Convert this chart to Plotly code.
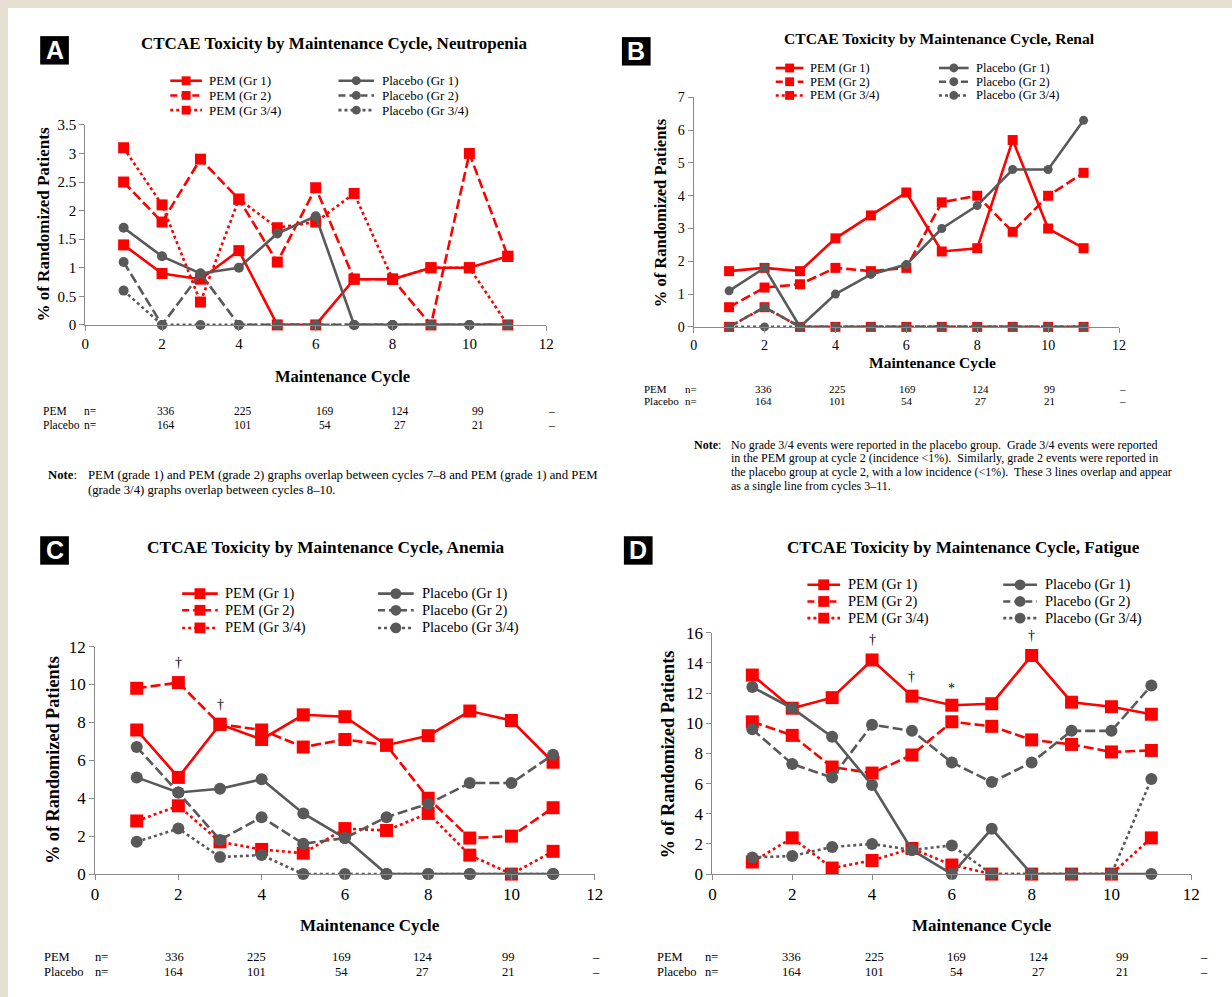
import plotly.graph_objects as go

PAGE_W, PAGE_H = 1232, 997
OFF = 8                      # default page margin of the html body
W, H = PAGE_W - 2 * OFF, PAGE_H - 2 * OFF
SERIF = "Liberation Serif, Times New Roman, Times, serif"
SANS = "Liberation Sans, Arial, sans-serif"
RED = "#ff0000"
GRAY = "#595959"

cycles = list(range(1, 12))

# ---------------- data ----------------
# Panel A - Neutropenia
a_pem_g1 = [1.4, 0.9, 0.8, 1.3, 0, 0, 0.8, 0.8, 1.0, 1.0, 1.2]
a_pem_g2 = [2.5, 1.8, 2.9, 2.2, 1.1, 2.4, 0.8, 0.8, 0, 3.0, 1.2]
a_pem_g34 = [3.1, 2.1, 0.4, 2.2, 1.7, 1.8, 2.3, 0.8, 1.0, 1.0, 0]
a_plc_g1 = [1.7, 1.2, 0.9, 1.0, 1.6, 1.9, 0, 0, 0, 0, 0]
a_plc_g2 = [1.1, 0, 0.9, 0, 0, 0, 0, 0, 0, 0, 0]
a_plc_g34 = [0.6, 0, 0, 0, 0, 0, 0, 0, 0, 0, 0]

# Panel B - Renal
b_pem_g1 = [1.7, 1.8, 1.7, 2.7, 3.4, 4.1, 2.3, 2.4, 5.7, 3.0, 2.4]
b_pem_g2 = [0.6, 1.2, 1.3, 1.8, 1.7, 1.8, 3.8, 4.0, 2.9, 4.0, 4.7]
b_pem_g34 = [0, 0.6, 0, 0, 0, 0, 0, 0, 0, 0, 0]
b_plc_g1 = [1.1, 1.8, 0, 1.0, 1.6, 1.9, 3.0, 3.7, 4.8, 4.8, 6.3]
b_plc_g2 = [0, 0.6, 0, 0, 0, 0, 0, 0, 0, 0, 0]
b_plc_g34 = [0, 0, 0, 0, 0, 0, 0, 0, 0, 0, 0]

# Panel C - Anemia
c_pem_g1 = [7.6, 5.1, 7.9, 7.1, 8.4, 8.3, 6.8, 7.3, 8.6, 8.1, 5.9]
c_pem_g2 = [9.8, 10.1, 7.9, 7.6, 6.7, 7.1, 6.8, 4.0, 1.9, 2.0, 3.5]
c_pem_g34 = [2.8, 3.6, 1.7, 1.3, 1.1, 2.4, 2.3, 3.2, 1.0, 0, 1.2]
c_plc_g1 = [5.1, 4.3, 4.5, 5.0, 3.2, 1.9, 0, 0, 0, 0, 0]
c_plc_g2 = [6.7, 4.3, 1.8, 3.0, 1.6, 1.9, 3.0, 3.7, 4.8, 4.8, 6.3]
c_plc_g34 = [1.7, 2.4, 0.9, 1.0, 0, 0, 0, 0, 0, 0, 0]

# Panel D - Fatigue
d_pem_g1 = [13.2, 11.0, 11.7, 14.2, 11.8, 11.2, 11.3, 14.5, 11.4, 11.1, 10.6]
d_pem_g2 = [10.1, 9.2, 7.1, 6.7, 7.9, 10.1, 9.8, 8.9, 8.6, 8.1, 8.2]
d_pem_g34 = [0.8, 2.4, 0.4, 0.9, 1.7, 0.6, 0, 0, 0, 0, 2.4]
d_plc_g1 = [12.4, 11.0, 9.1, 5.9, 1.6, 0, 3.0, 0, 0, 0, 0]
d_plc_g2 = [9.6, 7.3, 6.4, 9.9, 9.5, 7.4, 6.1, 7.4, 9.5, 9.5, 12.5]
d_plc_g34 = [1.1, 1.2, 1.8, 2.0, 1.6, 1.9, 0, 0, 0, 0, 6.3]

# significance marks (cycle, symbol) placed above PEM points
c_marks_cycles = [2, 3]
c_marks_text = ["†", "†"]
d_marks_cycles = [4, 5, 6, 8]
d_marks_text = ["†", "†", "*", "†"]

# patients at risk
n_pem_labels = ["336", "225", "169", "124", "99", "–"]
n_placebo_labels = ["164", "101", "54", "27", "21", "–"]

series_names = ["PEM (Gr 1)", "PEM (Gr 2)", "PEM (Gr 3/4)",
                "Placebo (Gr 1)", "Placebo (Gr 2)", "Placebo (Gr 3/4)"]
dashes = ["solid", "10px,4px", "dot"]
legend_dashes = ["solid", "7px,4px", "dot"]

titles = ["CTCAE Toxicity by Maintenance Cycle, Neutropenia",
          "CTCAE Toxicity by Maintenance Cycle, Renal",
          "CTCAE Toxicity by Maintenance Cycle, Anemia",
          "CTCAE Toxicity by Maintenance Cycle, Fatigue"]

panel_data = [
    [a_pem_g1, a_pem_g2, a_pem_g34, a_plc_g1, a_plc_g2, a_plc_g34],
    [b_pem_g1, b_pem_g2, b_pem_g34, b_plc_g1, b_plc_g2, b_plc_g34],
    [c_pem_g1, c_pem_g2, c_pem_g34, c_plc_g1, c_plc_g2, c_plc_g34],
    [d_pem_g1, d_pem_g2, d_pem_g34, d_plc_g1, d_plc_g2, d_plc_g34],
]
y_max = [3.5, 7, 12, 16]
y_dtick = [0.5, 1, 2, 2]

# ---------------- layout geometry (page pixels) ----------------
panels = [
    dict(letter="A", box=(51, 42), title=(333, 35), tsize=17,
         x0=82, x1=548, y0=322, y1=118, tick=15,
         leg_rows=[73, 88, 103], leg_pem=(168, 200, 205), leg_plc=(338, 374, 380), lsize=13, mk=9,
         xt=(342, 375), yt=(40, 220), axsize=16.5, ytsize=17,
         n_rows=[410, 424], n_lab=(37, 79), n_x=[164, 242, 324, 400, 479, 553], nsize=11.5,
         msize=11),
    dict(letter="B", box=(639, 43), title=(946, 30), tsize=15.6,
         x0=697, x1=1127, y0=324, y1=90, tick=14,
         leg_rows=[60, 74, 88], leg_pem=(780, 808, 813), leg_plc=(945, 975, 980), lsize=12.5, mk=9,
         xt=(938, 360), yt=(663, 207), axsize=15.5, ytsize=16.5,
         n_rows=[387, 400], n_lab=(645, 686), n_x=[768, 842, 913, 987, 1057, 1130], nsize=11,
         msize=10),
    dict(letter="C", box=(51, 552), title=(325, 549), tsize=17.3,
         x0=92, x1=597, y0=882, y1=650, tick=17,
         leg_rows=[596, 613, 631], leg_pem=(180, 216, 221), leg_plc=(378, 414, 420), lsize=14.5, mk=11,
         xt=(370, 934), yt=(50, 766), axsize=17, ytsize=18.2,
         n_rows=[967, 982], n_lab=(38, 90), n_x=[172, 255, 341, 423, 510, 598], nsize=12.5,
         msize=13),
    dict(letter="D", box=(641, 552), title=(970, 549), tsize=17.1,
         x0=716, x1=1200, y0=882, y1=636, tick=17,
         leg_rows=[587, 604, 621], leg_pem=(812, 845, 851), leg_plc=(1010, 1044, 1050), lsize=14.5, mk=11,
         xt=(988, 934), yt=(672, 760), axsize=17, ytsize=18.2,
         n_rows=[967, 982], n_lab=(658, 706), n_x=[796, 880, 963, 1046, 1130, 1213], nsize=12.5,
         msize=13),
]


def fx(px):
    return (px - OFF) / W


def fy(py):
    return 1 - (py - OFF) / H


fig = go.Figure()
shapes = []
annotations = []

for i, (p, data) in enumerate(zip(panels, panel_data)):
    ax = "" if i == 0 else str(i + 1)
    xa, ya = "x" + ax, "y" + ax
    for k, (name, ys) in enumerate(zip(series_names, data)):
        is_pem = k < 3
        fig.add_trace(go.Scatter(
            x=cycles, y=ys, mode="lines+markers", name=name, showlegend=False,
            xaxis=xa, yaxis=ya, cliponaxis=False,
            line=dict(color=RED if is_pem else GRAY, width=2.6, dash=dashes[k % 3]),
            marker=dict(symbol="square" if is_pem else "circle",
                        size=p["msize"] if is_pem else p["msize"] - 1,
                        color=RED if is_pem else GRAY, line=dict(width=0)),
        ))
    fig.layout["xaxis" + ax] = dict(
        domain=[fx(p["x0"]), fx(p["x1"])], range=[0, 12], tickvals=list(range(0, 13, 2)),
        anchor=ya, showline=True, linecolor="#8a8a8a", linewidth=1, ticks="outside",
        ticklen=5, tickcolor="#8a8a8a", showgrid=False, zeroline=False,
        tickfont=dict(family=SERIF, size=p["tick"], color="black"), fixedrange=True)
    fig.layout["yaxis" + ax] = dict(
        domain=[fy(p["y0"]), fy(p["y1"])], range=[0, y_max[i]], dtick=y_dtick[i],
        anchor=xa, showline=True, linecolor="#8a8a8a", linewidth=1, ticks="outside",
        ticklen=5, tickcolor="#8a8a8a", showgrid=False, zeroline=False,
        tickfont=dict(family=SERIF, size=p["tick"], color="black"), fixedrange=True)

    # letter box
    bx, by = p["box"]
    shapes.append(dict(type="rect", xref="paper", yref="paper",
                       x0=fx(bx - 14.5), x1=fx(bx + 14.5), y0=fy(by + 14.5), y1=fy(by - 14.5),
                       fillcolor="black", line=dict(width=0)))
    annotations.append(dict(x=fx(bx), y=fy(by), xref="paper", yref="paper", text="<b>%s</b>" % p["letter"],
                            showarrow=False, xanchor="center", yanchor="middle",
                            font=dict(family=SANS, size=25, color="white")))
    # title
    tx, ty = p["title"]
    annotations.append(dict(x=fx(tx), y=fy(ty), xref="paper", yref="paper", text="<b>%s</b>" % titles[i],
                            showarrow=False, xanchor="center", yanchor="middle",
                            font=dict(family=SERIF, size=p["tsize"], color="black")))
    # legend (manual, two columns)
    for r, ry in enumerate(p["leg_rows"]):
        for col, (lx0, lx1, tx0) in enumerate([p["leg_pem"], p["leg_plc"]]):
            color = RED if col == 0 else GRAY
            shapes.append(dict(type="line", xref="paper", yref="paper",
                               x0=fx(lx0), x1=fx(lx1), y0=fy(ry), y1=fy(ry),
                               line=dict(color=color, width=2.6, dash=legend_dashes[r])))
            cx = (lx0 + lx1) / 2
            h = p["mk"] / 2
            shapes.append(dict(type="rect" if col == 0 else "circle", xref="paper", yref="paper",
                               x0=fx(cx - h), x1=fx(cx + h), y0=fy(ry + h), y1=fy(ry - h),
                               fillcolor=color, line=dict(width=0)))
            annotations.append(dict(x=fx(tx0), y=fy(ry), xref="paper", yref="paper",
                                    text=series_names[col * 3 + r], showarrow=False,
                                    xanchor="left", yanchor="middle",
                                    font=dict(family=SERIF, size=p["lsize"], color="black")))
    # axis titles
    xtx, xty = p["xt"]
    annotations.append(dict(x=fx(xtx), y=fy(xty), xref="paper", yref="paper",
                            text="<b>Maintenance Cycle</b>", showarrow=False,
                            xanchor="center", yanchor="middle",
                            font=dict(family=SERIF, size=p["axsize"], color="black")))
    ytx, yty = p["yt"]
    annotations.append(dict(x=fx(ytx), y=fy(yty), xref="paper", yref="paper",
                            text="<b>% of Randomized Patients</b>", showarrow=False, textangle=-90,
                            xanchor="center", yanchor="middle",
                            font=dict(family=SERIF, size=p["ytsize"], color="black")))
    # n= table
    for row, (lab, vals) in enumerate([("PEM", n_pem_labels), ("Placebo", n_placebo_labels)]):
        ry = p["n_rows"][row]
        annotations.append(dict(x=fx(p["n_lab"][0]), y=fy(ry), xref="paper", yref="paper", text=lab,
                                showarrow=False, xanchor="left", yanchor="middle",
                                font=dict(family=SERIF, size=p["nsize"], color="black")))
        annotations.append(dict(x=fx(p["n_lab"][1]), y=fy(ry), xref="paper", yref="paper", text="n=",
                                showarrow=False, xanchor="left", yanchor="middle",
                                font=dict(family=SERIF, size=p["nsize"], color="black")))
        for v, vx in zip(vals, p["n_x"]):
            annotations.append(dict(x=fx(vx), y=fy(ry), xref="paper", yref="paper", text=v,
                                    showarrow=False, xanchor="center", yanchor="middle",
                                    font=dict(family=SERIF, size=p["nsize"], color="black")))

# significance marks in C and D (above highest PEM point at that cycle)
for ax, cyc_list, txt_list, pem_top in [("3", c_marks_cycles, c_marks_text, [c_pem_g1, c_pem_g2]),
                                        ("4", d_marks_cycles, d_marks_text, [d_pem_g1, d_pem_g2])]:
    for cyc, t in zip(cyc_list, txt_list):
        idx = cycles.index(cyc)
        yv = max(s[idx] for s in pem_top)
        annotations.append(dict(x=cyc, y=yv, xref="x" + ax, yref="y" + ax, text=t, showarrow=False,
                                yshift=20 if t != "*" else 17, xanchor="center", yanchor="middle",
                                font=dict(family=SERIF, size=14, color="black")))

# notes
note_a = ["PEM (grade 1) and PEM (grade 2) graphs overlap between cycles 7–8 and PEM (grade 1) and PEM",
          "(grade 3/4) graphs overlap between cycles 8–10."]
note_b = ["No grade 3/4 events were reported in the placebo group.  Grade 3/4 events were reported",
          "in the PEM group at cycle 2 (incidence &lt;1%).  Similarly, grade 2 events were reported in",
          "the placebo group at cycle 2, with a low incidence (&lt;1%).  These 3 lines overlap and appear",
          "as a single line from cycles 3–11."]
for (nx, bx0, y0, dy, lines, size) in [(42, 83, 475, 15, note_a, 12.75), (695, 733, 444, 14, note_b, 12)]:
    annotations.append(dict(x=fx(nx), y=fy(y0), xref="paper", yref="paper", text="<b>Note</b>:",
                            showarrow=False, xanchor="left", yanchor="middle",
                            font=dict(family=SERIF, size=size, color="black")))
    for j, ln in enumerate(lines):
        annotations.append(dict(x=fx(bx0), y=fy(y0 + j * dy), xref="paper", yref="paper", text=ln,
                                showarrow=False, xanchor="left", yanchor="middle",
                                font=dict(family=SERIF, size=size, color="black")))

fig.update_layout(
    width=W, height=H, margin=dict(l=0, r=0, t=0, b=0),
    paper_bgcolor="white", plot_bgcolor="rgba(0,0,0,0)",
    showlegend=False, shapes=shapes, annotations=annotations,
    font=dict(family=SERIF, color="black"),
)

fig.write_html(
    "out.html",
    config=dict(displayModeBar=False),
    post_script=("document.body.style.background='linear-gradient(to right, #e6dfd2 8px, rgba(0,0,0,0) 8px),"
                 " linear-gradient(to bottom, #e6dfd2 8px, #ffffff 8px)';"),
)
